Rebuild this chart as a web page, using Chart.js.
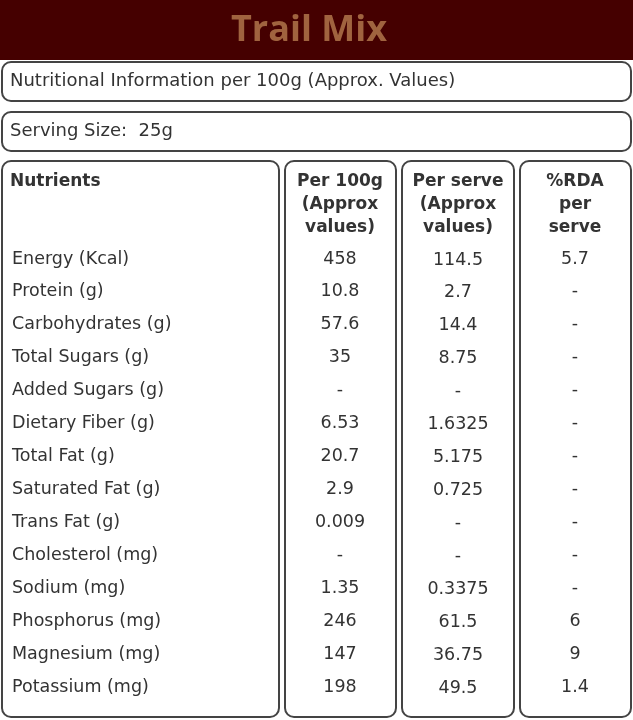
<!DOCTYPE html>
<html><head><meta charset="utf-8">
<script src="https://cdn.jsdelivr.net/npm/chart.js@4"></script>
<style>html,body{margin:0;padding:0;background:#fff}canvas{display:block}</style>
</head><body>
<canvas id="c" width="633" height="720"></canvas>
<script>
const title = "Trail Mix";
const subtitle = "Nutritional Information per 100g (Approx. Values)";
const serving = "Serving Size:  25g";
const headers = [["Nutrients"], ["Per 100g","(Approx","values)"], ["Per serve","(Approx","values)"], ["%RDA","per","serve"]];
const nutrients = ["Energy (Kcal)","Protein (g)","Carbohydrates (g)","Total Sugars (g)","Added Sugars (g)","Dietary Fiber (g)","Total Fat (g)","Saturated Fat (g)","Trans Fat (g)","Cholesterol (mg)","Sodium (mg)","Phosphorus (mg)","Magnesium (mg)","Potassium (mg)"];
const per100g = ["458","10.8","57.6","35","-","6.53","20.7","2.9","0.009","-","1.35","246","147","198"];
const perServe = ["114.5","2.7","14.4","8.75","-","1.6325","5.175","0.725","-","-","0.3375","61.5","36.75","49.5"];
const rda = ["5.7","-","-","-","-","-","-","-","-","-","-","6","9","1.4"];

function rr(ctx,x,y,w,h,r){ctx.beginPath();ctx.roundRect(x,y,w,h,r);ctx.stroke();}
const tablePlugin = {
  id:'table',
  afterDraw(chart){
    const ctx = chart.ctx, ys = chart.scales.y;
    ctx.save();
    ctx.fillStyle = '#450000'; ctx.fillRect(0,0,633,60);
    ctx.fillStyle = '#a0633f'; ctx.font = 'bold 36px "Open Sans"';
    ctx.textAlign='center'; ctx.textBaseline='middle'; ctx.fillText(title,309,31);
    ctx.strokeStyle='#444'; ctx.lineWidth=2;
    rr(ctx,2,62,629,39,9); rr(ctx,2,112,629,39,9);
    const cols=[[2,277],[285,111],[402,112],[520,111]];
    cols.forEach(([x,w])=>rr(ctx,x,161,w,556,9));
    ctx.fillStyle='#333'; ctx.textAlign='left';
    ctx.font='18px "DejaVu Sans"';
    ctx.fillText(subtitle,10,81); ctx.fillText(serving,10,131);
    ctx.font='bold 17px "DejaVu Sans"';
    const cx=[null,340,458,575];
    headers.forEach((lines,i)=>{
      lines.forEach((t,j)=>{
        if(i===0){ctx.textAlign='left';ctx.fillText(t,10,182+23*j);}
        else{ctx.textAlign='center';ctx.fillText(t,cx[i],182+23*j);}
      });
    });
    ctx.font='17.5px "DejaVu Sans"';
    nutrients.forEach((n,i)=>{
      const y = ys.getPixelForValue(i);
      ctx.textAlign='left'; ctx.fillText(n,12,y);
      ctx.textAlign='center';
      ctx.fillText(per100g[i],cx[1],y);
      ctx.fillText(perServe[i],cx[2],y+1);
      ctx.fillText(rda[i],cx[3],y);
    });
    ctx.restore();
  }
};
new Chart(document.getElementById('c'),{
  type:'scatter',
  data:{datasets:[{data:[],pointRadius:0}]},
  options:{responsive:false,animation:false,devicePixelRatio:1,
    layout:{padding:{top:259,bottom:33,left:0,right:0}},
    plugins:{legend:{display:false},tooltip:{enabled:false}},
    scales:{x:{display:false,min:0,max:1},
            y:{display:false,reverse:true,min:0,max:nutrients.length-1}}},
  plugins:[tablePlugin]
});
</script>
</body></html>
